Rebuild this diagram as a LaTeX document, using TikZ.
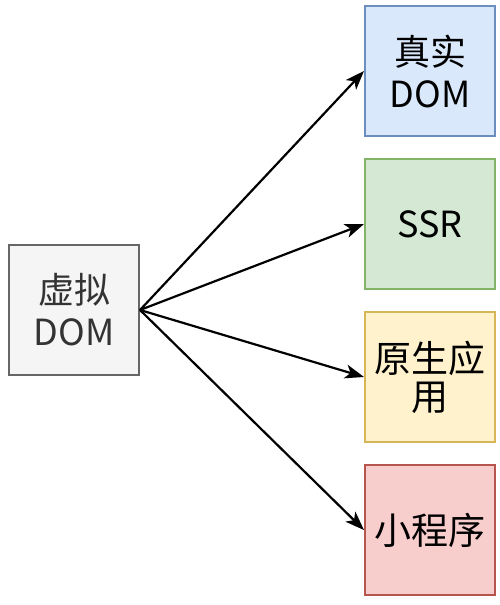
\documentclass[tikz,border=0pt]{standalone}
\usepackage{fontspec}
\setmainfont{Noto Sans CJK SC}
\usepackage{tikz}
\usetikzlibrary{arrows.meta,positioning}
\definecolor{greyfill}{HTML}{F5F5F5}
\definecolor{greyline}{HTML}{666666}
\definecolor{greytext}{HTML}{333333}
\definecolor{bluefill}{HTML}{DAE8FC}
\definecolor{blueline}{HTML}{6C8EBF}
\definecolor{greenfill}{HTML}{D5E8D4}
\definecolor{greenline}{HTML}{82B366}
\definecolor{yellowfill}{HTML}{FFF2CC}
\definecolor{yellowline}{HTML}{D6B656}
\definecolor{redfill}{HTML}{F8CECC}
\definecolor{redline}{HTML}{B85450}

\begin{document}
\begin{tikzpicture}[x=1pt,y=-1pt]
  \def\x{430}
  \def\y{153}
  \tikzset{box/.style={draw,line width=2pt,minimum width=130pt,minimum height=130pt,inner sep=0pt,align=center,font=\fontsize{36}{42}\selectfont}}
  \tikzset{transition/.style={-{Stealth[length=19pt,width=14pt,inset=5pt]},line width=2.2pt}}
  \useasboundingbox (0,0) rectangle (500,605);
  \node[box,fill=greyfill,draw=greyline,text=greytext] (vdom) at (74,310) {虚拟\\DOM};
  \node[box,fill=bluefill,draw=blueline] (real) at (\x,71) {真实\\DOM};
  \node[box,fill=greenfill,draw=greenline] (ssr) at (\x,71+1*\y) {SSR};
  \node[box,fill=yellowfill,draw=yellowline,font=\fontsize{37}{38}\selectfont] (native) at (\x,71+2*\y) {原生应\\用};
  \node[box,fill=redfill,draw=redline,font=\fontsize{37}{42}\selectfont] (mini) at (\x,71+3*\y) {小程序};
  \draw[transition] (vdom.east)--(real.west);
  \draw[transition] (vdom.east)--(ssr.west);
  \draw[transition] (vdom.east)--(native.west);
  \draw[transition] (vdom.east)--(mini.west);
\end{tikzpicture}
\end{document}
